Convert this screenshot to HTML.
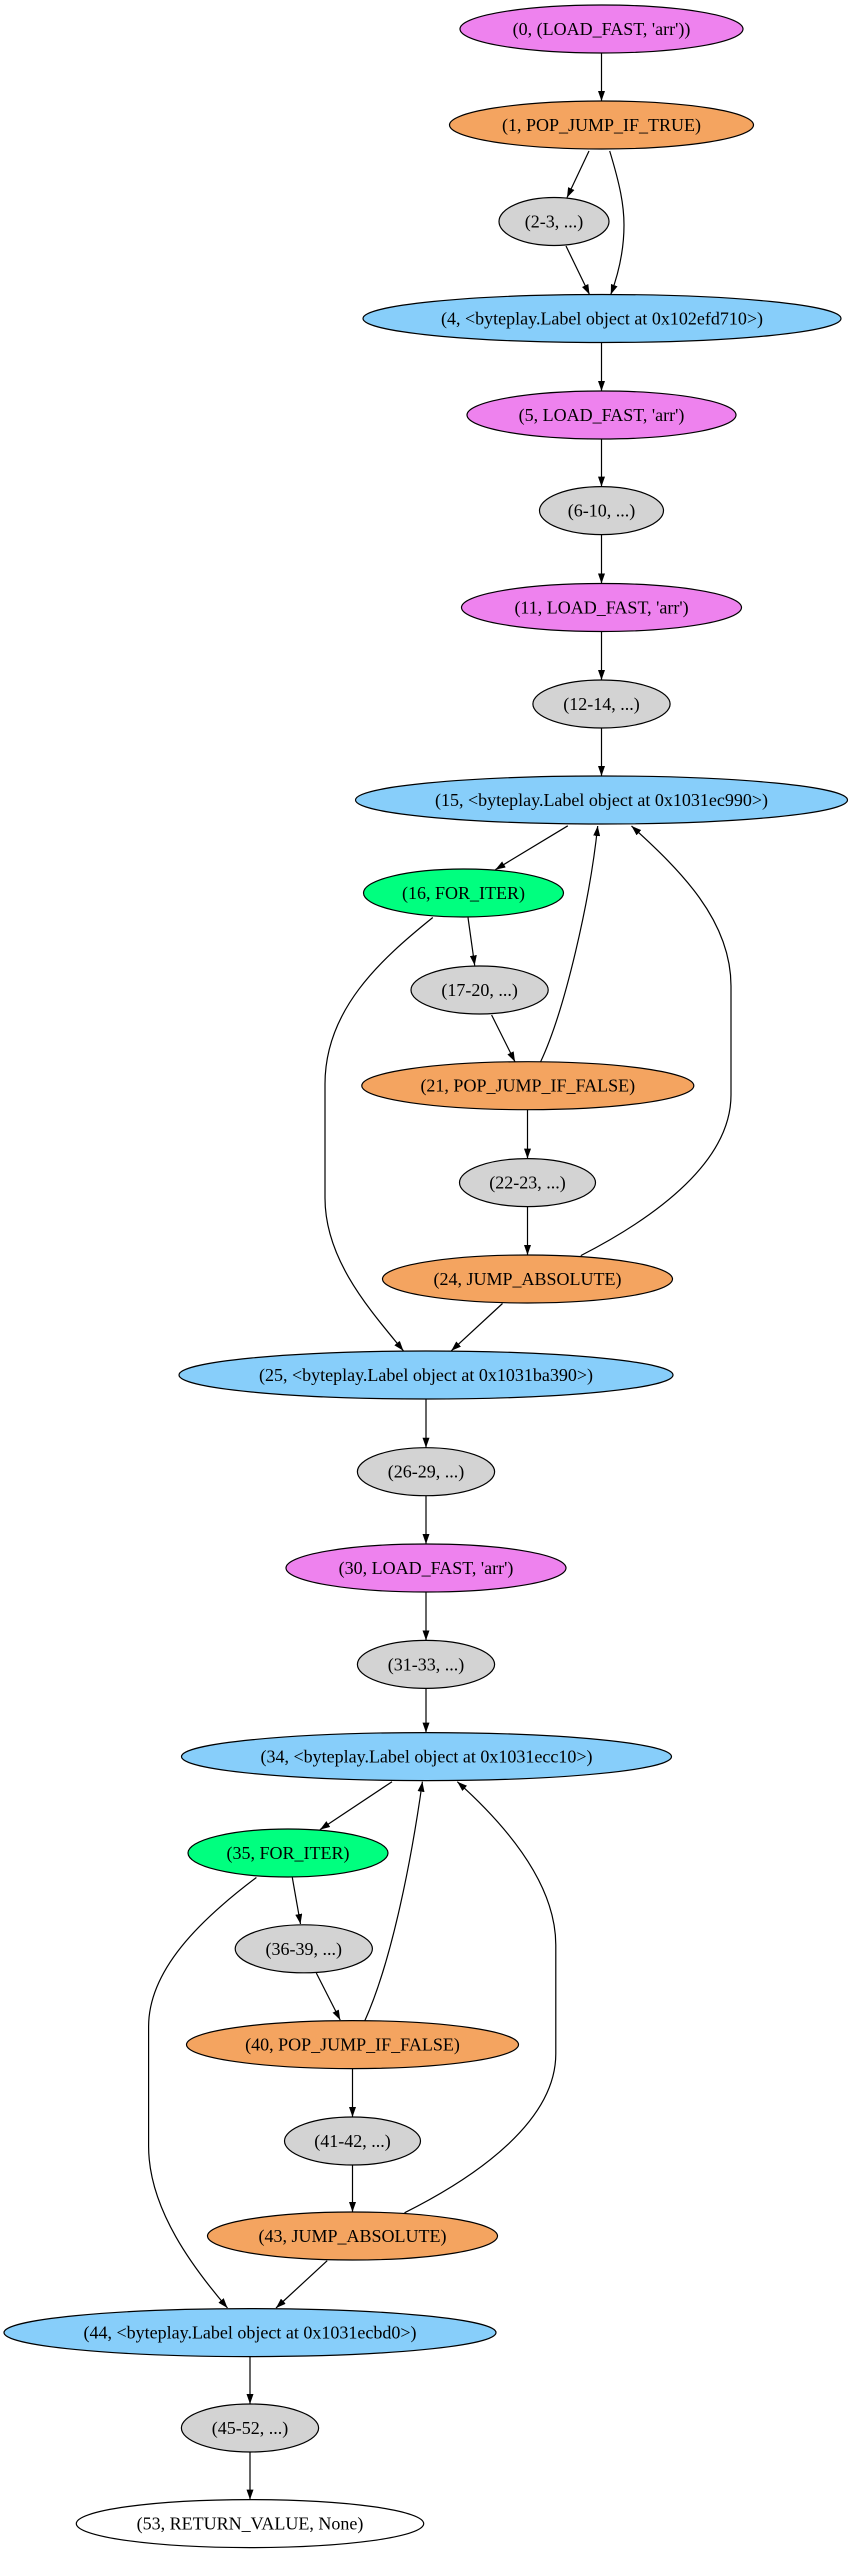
<!DOCTYPE html>
<html><head><meta charset="utf-8"><style>
html,body{margin:0;padding:0;background:#fff;}
svg{display:block;}
text{font-family:"Liberation Serif",serif;font-size:18px;fill:#000;}
</style></head><body>
<svg width="849" height="2555" viewBox="0 0 849 2555" xmlns="http://www.w3.org/2000/svg">
<defs><marker id="a" markerWidth="10" markerHeight="7" refX="10" refY="3.5" orient="auto" markerUnits="userSpaceOnUse"><path d="M0,0 L10,3.5 L0,7 z" fill="#000"/></marker></defs>
<g fill="none" stroke="#000" stroke-width="1.2" marker-end="url(#a)">
<path d="M601.5,53 L601.5,101"/>
<path d="M589,151 L567,197.6"/>
<path d="M609.7,151 C620,185 624,205 624,225 C624,250 618,275 610.8,294.5"/>
<path d="M566,246 L589.5,294.5"/>
<path d="M601.5,342.5 L601.5,391"/>
<path d="M601.5,439 L601.5,486.6"/>
<path d="M601.5,534.6 L601.5,583.5"/>
<path d="M601.5,631.5 L601.5,680"/>
<path d="M601.5,728 L601.5,776"/>
<path d="M567.8,825.8 L495.4,869.6"/>
<path d="M540.6,1061.8 C565,1010 590,900 597.7,826"/>
<path d="M580.8,1255.6 C660,1215 731,1160 731,1095 L731,986 C731,920 680,870 631.5,826"/>
<path d="M468,917.5 L474.7,965.4"/>
<path d="M432.8,917.5 C380,960 325,1010 325,1084 L325,1198 C325,1260 370,1310 403.4,1350.8"/>
<path d="M491.6,1015 L515,1061.8"/>
<path d="M527.5,1109.7 L527.5,1158.6"/>
<path d="M527.5,1206.6 L527.5,1255"/>
<path d="M502.5,1303.5 L451.3,1350.8"/>
<path d="M426,1399 L426,1447.7"/>
<path d="M426,1495.7 L426,1544"/>
<path d="M426,1592 L426,1640.4"/>
<path d="M426,1688.4 L426,1732.6"/>
<path d="M392,1781.7 L320,1829.6"/>
<path d="M364.7,2021 C390,1965 410,1870 422.4,1781.7"/>
<path d="M404.5,2212.8 C480,2175 555.8,2120 555.8,2053.8 L555.8,1945 C555.8,1880 500,1820 457.3,1781.7"/>
<path d="M292.3,1877.5 L300.5,1924"/>
<path d="M256.4,1877.5 C200,1920 148.6,1970 148.6,2026.6 L148.6,2146.4 C148.6,2210 195,2270 227.5,2308"/>
<path d="M316.3,1973 L340.2,2020"/>
<path d="M352.5,2068.6 L352.5,2117"/>
<path d="M352.5,2165 L352.5,2212"/>
<path d="M327.2,2260.7 L276,2308"/>
<path d="M250,2356.6 L250,2404"/>
<path d="M250,2452 L250,2499.6"/>
</g>
<g stroke="#000" stroke-width="1.2">
<ellipse cx="601.5" cy="29" rx="141.5" ry="24" fill="#ee82ee"/>
<ellipse cx="601.5" cy="125" rx="152" ry="24" fill="#f4a460"/>
<ellipse cx="554" cy="221.5" rx="55" ry="24" fill="#d3d3d3"/>
<ellipse cx="602" cy="318.5" rx="239" ry="24" fill="#87cefa"/>
<ellipse cx="601.5" cy="415" rx="134.5" ry="24" fill="#ee82ee"/>
<ellipse cx="601.5" cy="510.6" rx="62" ry="24" fill="#d3d3d3"/>
<ellipse cx="601.5" cy="607.5" rx="140" ry="24" fill="#ee82ee"/>
<ellipse cx="601.5" cy="704" rx="68.6" ry="24" fill="#d3d3d3"/>
<ellipse cx="601.5" cy="800" rx="246" ry="24" fill="#87cefa"/>
<ellipse cx="463.5" cy="893" rx="100" ry="24" fill="#00ff7f"/>
<ellipse cx="479.6" cy="990" rx="68.6" ry="24" fill="#d3d3d3"/>
<ellipse cx="527.8" cy="1085.7" rx="166" ry="24" fill="#f4a460"/>
<ellipse cx="527.5" cy="1182.6" rx="68" ry="24" fill="#d3d3d3"/>
<ellipse cx="527.5" cy="1279" rx="145" ry="24" fill="#f4a460"/>
<ellipse cx="426" cy="1375" rx="247" ry="24" fill="#87cefa"/>
<ellipse cx="426" cy="1471.7" rx="68.6" ry="24" fill="#d3d3d3"/>
<ellipse cx="426" cy="1568" rx="140" ry="24" fill="#ee82ee"/>
<ellipse cx="426" cy="1664.4" rx="68.6" ry="24" fill="#d3d3d3"/>
<ellipse cx="426.5" cy="1756.6" rx="245" ry="24" fill="#87cefa"/>
<ellipse cx="288" cy="1853" rx="100" ry="24" fill="#00ff7f"/>
<ellipse cx="303.8" cy="1948.8" rx="68.6" ry="24" fill="#d3d3d3"/>
<ellipse cx="352.5" cy="2044.6" rx="166" ry="24" fill="#f4a460"/>
<ellipse cx="352.5" cy="2141" rx="68" ry="24" fill="#d3d3d3"/>
<ellipse cx="352.5" cy="2236" rx="145" ry="24" fill="#f4a460"/>
<ellipse cx="250" cy="2332.6" rx="246" ry="24" fill="#87cefa"/>
<ellipse cx="250" cy="2428" rx="68.6" ry="24" fill="#d3d3d3"/>
<ellipse cx="250" cy="2523.6" rx="173.7" ry="24" fill="#ffffff"/>
</g>
<g text-anchor="middle">
<text x="601.5" y="35">(0, (LOAD_FAST, 'arr'))</text>
<text x="601.5" y="131">(1, POP_JUMP_IF_TRUE)</text>
<text x="554" y="227.5">(2-3, ...)</text>
<text x="602" y="324.5">(4, &lt;byteplay.Label object at 0x102efd710&gt;)</text>
<text x="601.5" y="421">(5, LOAD_FAST, 'arr')</text>
<text x="601.5" y="516.6">(6-10, ...)</text>
<text x="601.5" y="613.5">(11, LOAD_FAST, 'arr')</text>
<text x="601.5" y="710">(12-14, ...)</text>
<text x="601.5" y="806">(15, &lt;byteplay.Label object at 0x1031ec990&gt;)</text>
<text x="463.5" y="899">(16, FOR_ITER)</text>
<text x="479.6" y="996">(17-20, ...)</text>
<text x="527.8" y="1091.7">(21, POP_JUMP_IF_FALSE)</text>
<text x="527.5" y="1188.6">(22-23, ...)</text>
<text x="527.5" y="1285">(24, JUMP_ABSOLUTE)</text>
<text x="426" y="1381">(25, &lt;byteplay.Label object at 0x1031ba390&gt;)</text>
<text x="426" y="1477.7">(26-29, ...)</text>
<text x="426" y="1574">(30, LOAD_FAST, 'arr')</text>
<text x="426" y="1670.4">(31-33, ...)</text>
<text x="426.5" y="1762.6">(34, &lt;byteplay.Label object at 0x1031ecc10&gt;)</text>
<text x="288" y="1859">(35, FOR_ITER)</text>
<text x="303.8" y="1954.8">(36-39, ...)</text>
<text x="352.5" y="2050.6">(40, POP_JUMP_IF_FALSE)</text>
<text x="352.5" y="2147">(41-42, ...)</text>
<text x="352.5" y="2242">(43, JUMP_ABSOLUTE)</text>
<text x="250" y="2338.6">(44, &lt;byteplay.Label object at 0x1031ecbd0&gt;)</text>
<text x="250" y="2434">(45-52, ...)</text>
<text x="250" y="2529.6">(53, RETURN_VALUE, None)</text>
</g>
</svg>
</body></html>
